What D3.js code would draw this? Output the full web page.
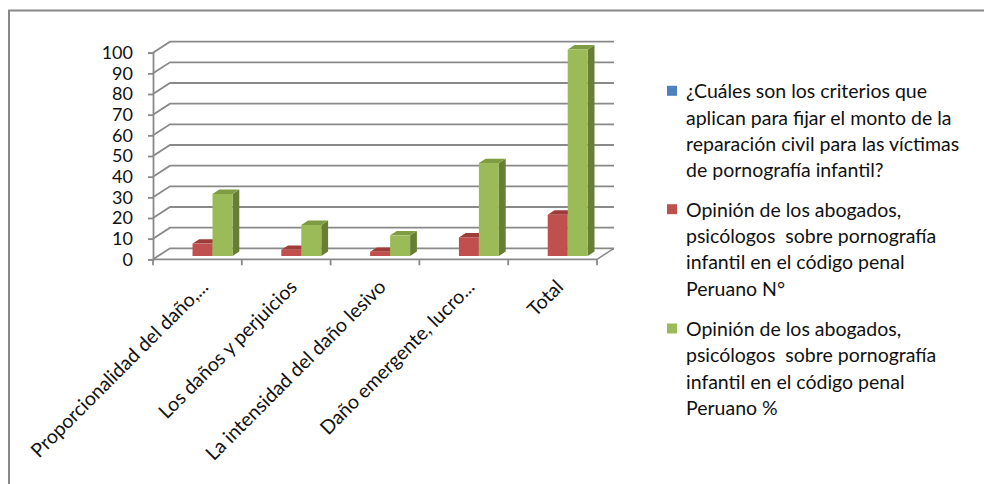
<!DOCTYPE html>
<html>
<head>
<meta charset="utf-8">
<script src="https://cdn.jsdelivr.net/npm/d3@7"></script>
<style>
  html, body { margin: 0; padding: 0; background: #fff; }
  text { font-family: Lato, "Open Sans", sans-serif; }
</style>
</head>
<body>
<svg id="chart" width="984" height="484"></svg>
<script>
// ---- data ----
const categories = [
  "Proporcionalidad del daño,...",
  "Los daños y perjuicios",
  "La intensidad del daño lesivo",
  "Daño emergente, lucro...",
  "Total"
];
const seriesNames = [
  "¿Cuáles son los criterios que aplican para fijar el monto de la reparación civil para las víctimas de pornografía infantil?",
  "Opinión de los abogados, psicólogos  sobre pornografía infantil en el código penal Peruano N°",
  "Opinión de los abogados, psicólogos  sobre pornografía infantil en el código penal Peruano %"
];
const legendLines = [
  ["¿Cuáles son los criterios que", "aplican para fijar el monto de la", "reparación civil para las víctimas", "de pornografía infantil?"],
  ["Opinión de los abogados,", "psicólogos  sobre pornografía", "infantil en el código penal", "Peruano N°"],
  ["Opinión de los abogados,", "psicólogos  sobre pornografía", "infantil en el código penal", "Peruano %"]
];
const valuesN = [6, 3, 2, 9, 20];
const valuesPct = [30, 15, 10, 45, 100];
const yTicks = [0, 10, 20, 30, 40, 50, 60, 70, 80, 90, 100];

// ---- styles ----
const colors = {
  blue: "#4F81BD",
  red: { front: "#C0504D", top: "#9E3C39", side: "#8A3432" },
  green: { front: "#9BBB59", top: "#7F9C43", side: "#667F34" }
};
const gridColor = "#898989";
const FS = 19.5;

const svg = d3.select("#chart");

// outer frame
svg.append("path")
  .attr("d", "M9,490 L9,10.5 L990,10.5")
  .attr("fill", "none").attr("stroke", "#888").attr("stroke-width", 2);

// ---- scales & projection ----
const x = d3.scaleBand().domain(categories).range([153, 597]).paddingInner(0).paddingOuter(0);
const y = d3.scaleLinear().domain([0, 100]).range([259.3, 52.7]);
const DX = 17, DY = -11;       // depth vector (front -> back)
const P = (px, v, z) => [px + z * DX, y(v) + z * DY];

const g = svg.append("g");

// back wall gridlines + left wall diagonals
const gx0 = x.range()[0], gx1 = x.range()[1];
yTicks.forEach(t => {
  const a = P(gx0, t, 0), b = P(gx0, t, 1), c = P(gx1, t, 1);
  g.append("path")
    .attr("d", `M${a}L${b}L${c}`)
    .attr("fill", "none").attr("stroke", gridColor).attr("stroke-width", 1.8);
});
// floor right edge
{
  const a = P(gx1, 0, 0), b = P(gx1, 0, 1);
  g.append("path").attr("d", `M${a}L${b}`).attr("fill", "none").attr("stroke", gridColor).attr("stroke-width", 1.5);
}

// y axis
const yAxis = d3.axisLeft(y).tickValues(yTicks).tickSize(5).tickPadding(15).tickFormat(d3.format("d"));
const ya = g.append("g").attr("transform", `translate(${gx0},0)`).call(yAxis);
ya.select(".domain").attr("stroke", gridColor).attr("stroke-width", 1.8);
ya.selectAll(".tick line").attr("stroke", gridColor).attr("stroke-width", 1.8);
ya.selectAll(".tick text").attr("font-size", 18).attr("fill", "#111").attr("font-family", "Lato, sans-serif");

// x axis
const xAxis = d3.axisBottom(x).tickSize(0).tickFormat("");
const xa = g.append("g").attr("transform", `translate(0,${y(0)})`).call(xAxis);
xa.select(".domain").remove();
g.append("line").attr("x1", gx0).attr("x2", gx1).attr("y1", y(0)).attr("y2", y(0))
  .attr("stroke", gridColor).attr("stroke-width", 1.8);
const tickXs = categories.map(c => x(c)).concat([gx1]);
g.selectAll(".xtick").data(tickXs).enter().append("line")
  .attr("x1", d => d).attr("x2", d => d).attr("y1", y(0)).attr("y2", y(0) + 6)
  .attr("stroke", gridColor).attr("stroke-width", 1.8);

// x labels
g.selectAll(".xlabel").data(categories).enter().append("text")
  .attr("transform", d => `translate(${x(d) + x.bandwidth() / 2 + 12},${y(0) + 29}) rotate(-45)`)
  .attr("text-anchor", "end")
  .attr("font-size", FS).attr("fill", "#111")
  .text(d => d);

// ---- bars ----
const barW = 20, shift = 10, z0 = 0.3, z1 = 0.7;
const series = [
  { vals: valuesN, col: colors.red, idx: 0 },
  { vals: valuesPct, col: colors.green, idx: 1 }
];
categories.forEach((c, i) => {
  const cx = x(c) + x.bandwidth() / 2 + shift;
  series.forEach(s => {
    const v = s.vals[i];
    const xl = cx - barW + s.idx * barW, xr = xl + barW;
    const fl0 = P(xl, 0, z0), fr0 = P(xr, 0, z0), flt = P(xl, v, z0), frt = P(xr, v, z0);
    const blt = P(xl, v, z1), brt = P(xr, v, z1), br0 = P(xr, 0, z1);
    g.append("path").attr("d", `M${fr0}L${br0}L${brt}L${frt}Z`).attr("fill", s.col.side);
    g.append("path").attr("d", `M${flt}L${frt}L${brt}L${blt}Z`).attr("fill", s.col.top);
    g.append("path").attr("d", `M${fl0}L${fr0}L${frt}L${flt}Z`).attr("fill", s.col.front);
  });
});

// ---- legend ----
const legColors = [colors.blue, colors.red.front, colors.green.front];
const legTop = [98.3, 216.7, 336];
const lg = svg.append("g");
legendLines.forEach((lines, k) => {
  lg.append("rect").attr("x", 667).attr("y", legTop[k] - 12.5).attr("width", 10).attr("height", 10)
    .attr("fill", legColors[k]);
  lines.forEach((ln, j) => {
    lg.append("text").attr("x", 686).attr("y", legTop[k] + j * 26.3)
      .attr("font-size", FS).attr("fill", "#111")
      .style("white-space", "pre")
      .text(ln);
  });
});
</script>
</body>
</html>
